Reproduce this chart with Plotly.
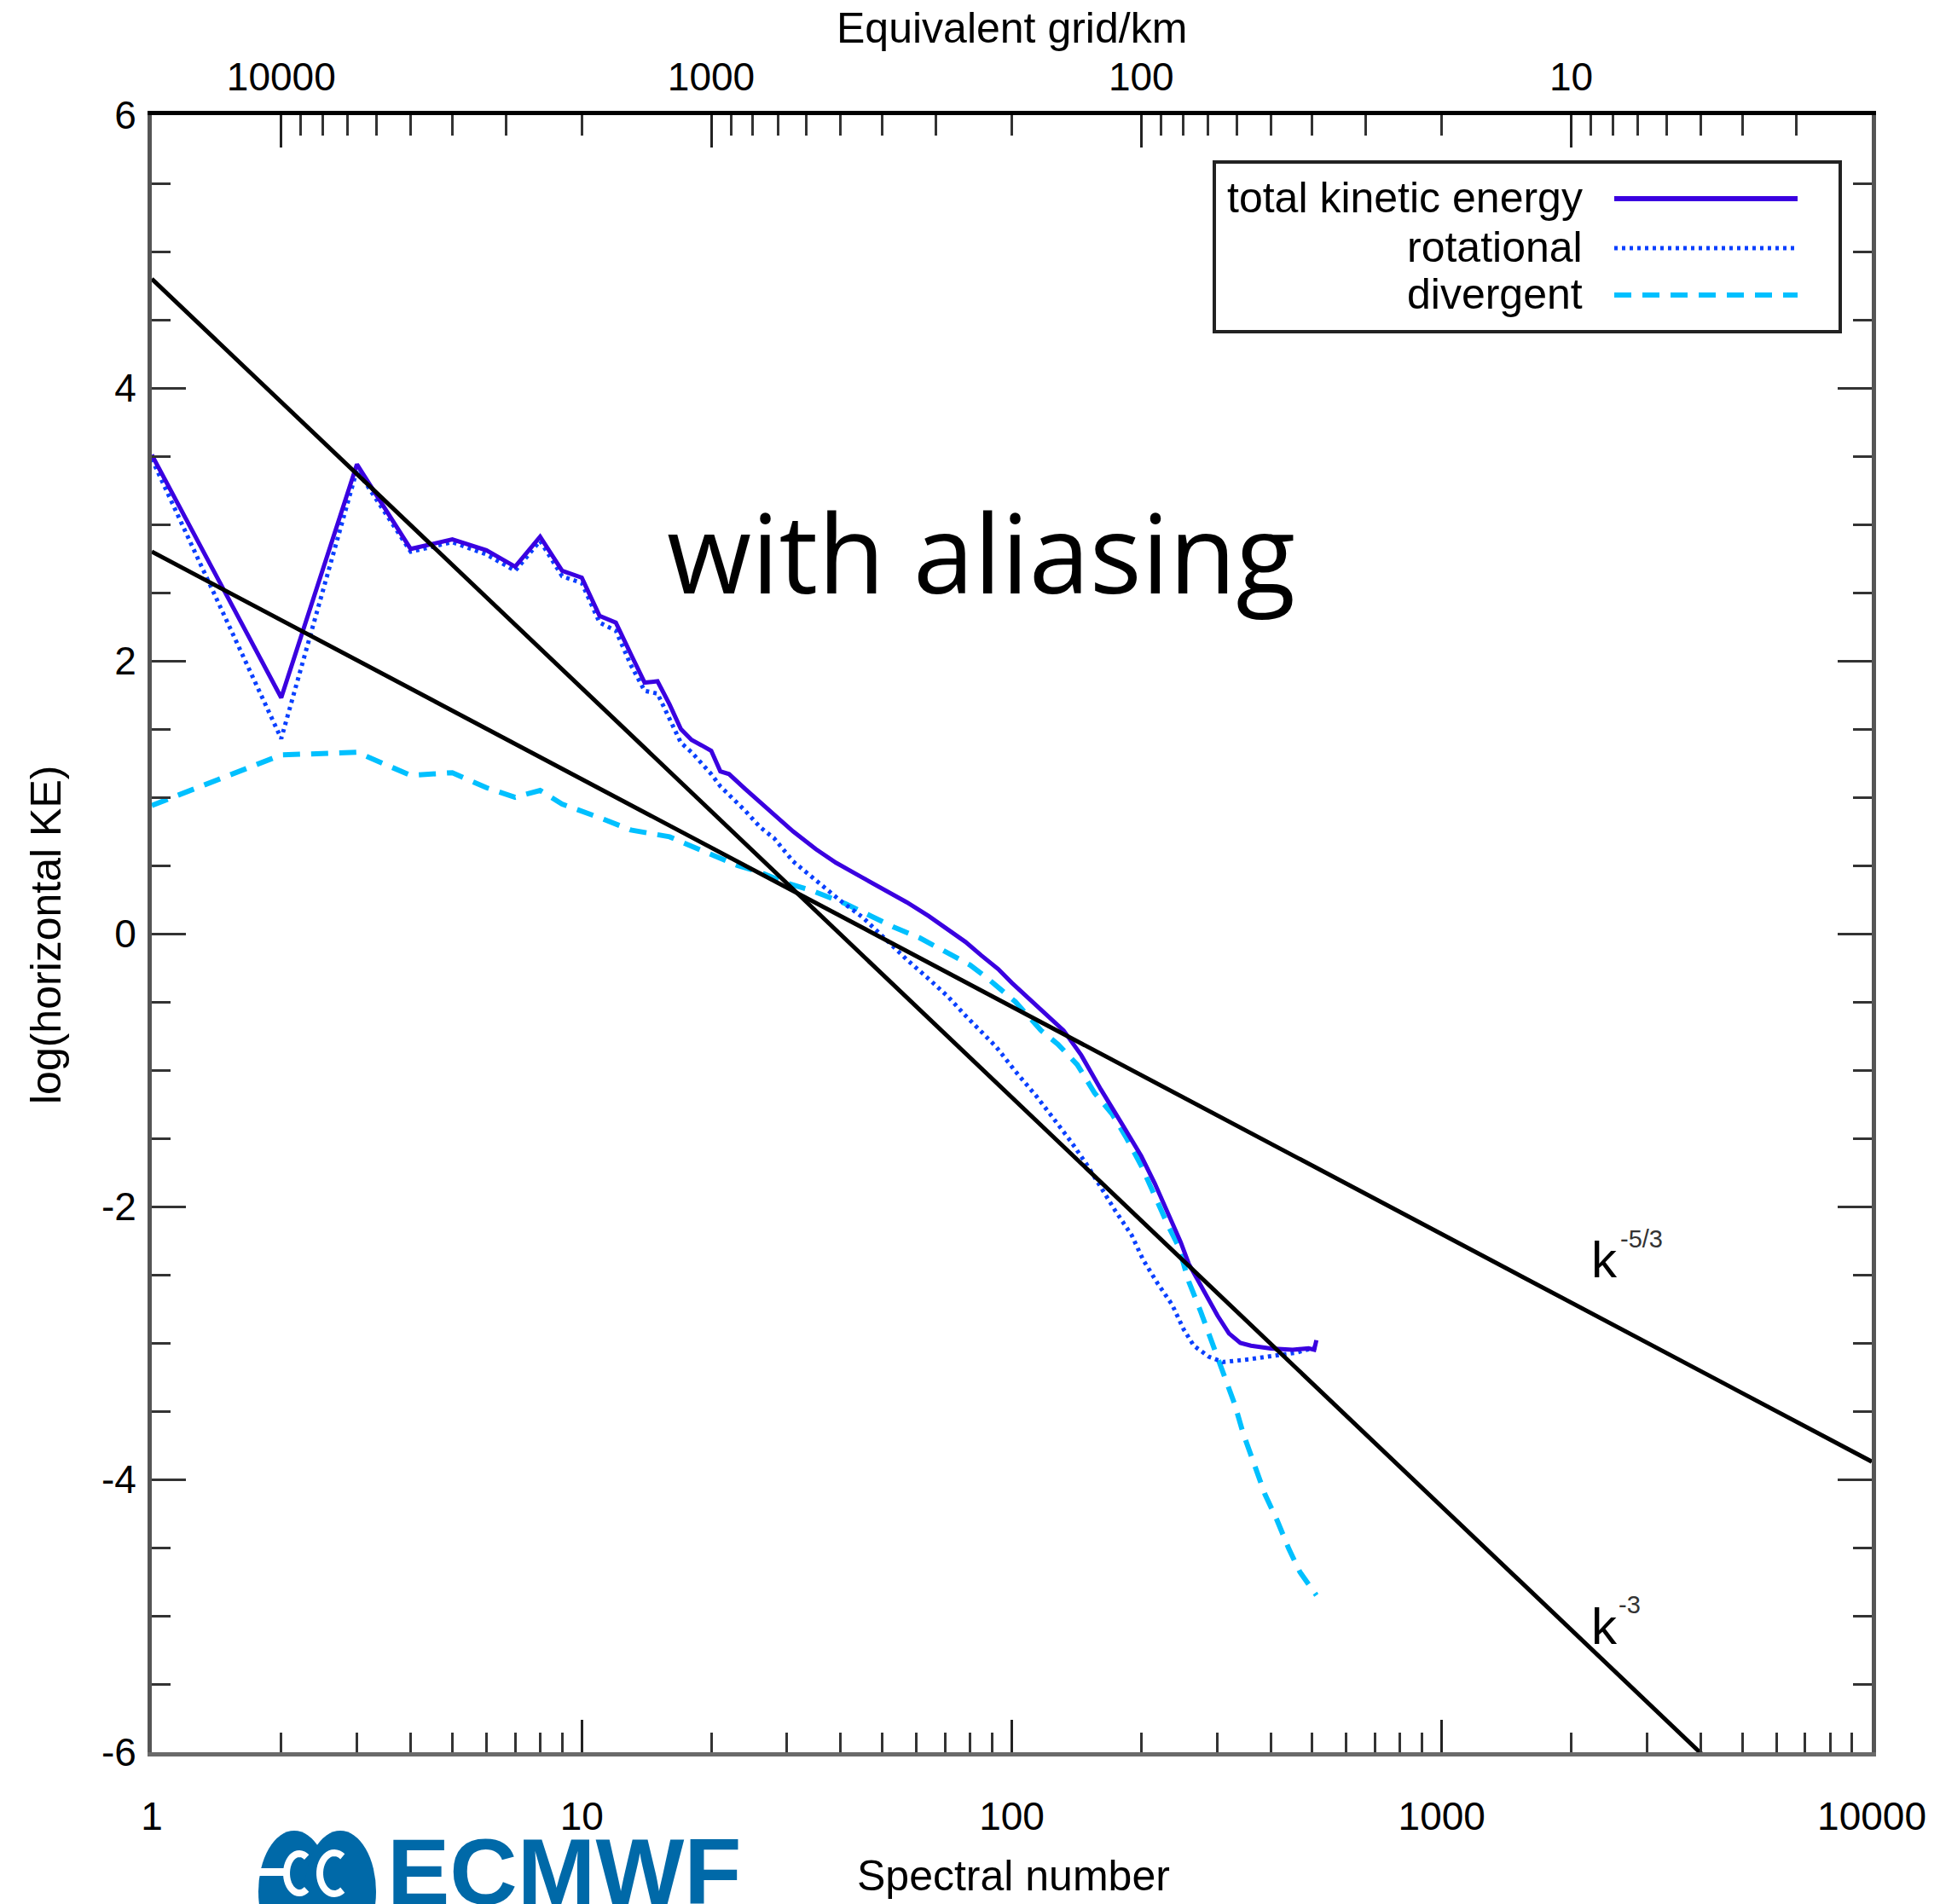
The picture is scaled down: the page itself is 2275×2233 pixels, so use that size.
import numpy as np
import plotly.graph_objects as go

# ---------------- data ----------------
k_total = [1, 2, 3, 4, 5, 6, 7, 8, 9, 10, 11, 12, 13, 14, 15, 16, 17, 18, 19, 20,
           21, 22, 24, 26, 28, 31, 35, 39, 45, 50, 57, 64, 71, 78, 85, 93, 100,
           114, 132, 145, 161, 180, 200, 215, 232, 247, 258, 279, 301, 320, 340,
           360, 400, 450, 490, 505, 511]
ke_total = [3.51, 1.73, 3.44, 2.82, 2.89, 2.81, 2.69, 2.91, 2.66, 2.61, 2.33, 2.28,
            2.05, 1.84, 1.85, 1.68, 1.50, 1.42, 1.38, 1.34, 1.19, 1.17, 1.06, 0.96,
            0.87, 0.75, 0.62, 0.52, 0.41, 0.33, 0.23, 0.13, 0.03, -0.06, -0.16,
            -0.26, -0.36, -0.53, -0.71, -0.89, -1.14, -1.39, -1.63, -1.83, -2.06,
            -2.26, -2.42, -2.61, -2.80, -2.93, -3.00, -3.02, -3.04, -3.05, -3.04,
            -3.05, -2.98]

k_rot = [1, 2, 3, 4, 5, 6, 7, 8, 9, 10, 11, 12, 13, 14, 15, 16, 17, 18, 19, 20,
         21, 22, 24, 26, 28, 31, 36, 40, 45, 50, 57, 64, 71, 78, 85, 92, 102, 114,
         124, 137, 150, 161, 174, 190, 202, 218, 236, 251, 265, 287, 310, 356, 414,
         460, 511]
ke_rot = [3.48, 1.43, 3.40, 2.80, 2.87, 2.78, 2.66, 2.88, 2.62, 2.57, 2.28, 2.22,
          1.97, 1.78, 1.76, 1.58, 1.40, 1.33, 1.25, 1.17, 1.08, 1.02, 0.90, 0.78,
          0.70, 0.53, 0.36, 0.24, 0.12, -0.02, -0.19, -0.33, -0.46, -0.60, -0.72,
          -0.83, -1.01, -1.19, -1.34, -1.52, -1.70, -1.86, -2.03, -2.21, -2.39,
          -2.56, -2.72, -2.90, -3.02, -3.10, -3.14, -3.12, -3.09, -3.07, -3.03]

k_div = [1, 2, 3, 4, 5, 6, 7, 8, 9, 10, 11, 13, 16, 19, 23, 26, 30, 34, 41, 47,
         53, 61, 70, 80, 88, 102, 117, 128, 142, 156, 171, 185, 200, 215, 231,
         244, 258, 275, 292, 310, 330, 345, 365, 388, 414, 441, 468, 500, 511]
ke_div = [0.94, 1.31, 1.33, 1.16, 1.18, 1.07, 1.00, 1.05, 0.95, 0.90, 0.85, 0.76,
          0.71, 0.61, 0.50, 0.45, 0.37, 0.32, 0.22, 0.13, 0.05, -0.03, -0.13,
          -0.23, -0.33, -0.50, -0.71, -0.81, -0.96, -1.17, -1.32, -1.50, -1.70,
          -1.93, -2.14, -2.29, -2.55, -2.77, -3.00, -3.21, -3.45, -3.66, -3.89,
          -4.11, -4.30, -4.51, -4.68, -4.82, -4.85]

ref_k = [1, 10000]
line_k53 = [2.80, -3.87]
line_k3 = [4.80, -7.20]

spectral_major = [1, 10, 100, 1000, 10000]
spectral_labels = ["1", "10", "100", "1000", "10000"]
spectral_minor = [m * 10 ** d for d in range(4) for m in range(2, 10)]

grid_km_major = [10000, 1000, 100, 10]
grid_km_labels = ["10000", "1000", "100", "10"]
grid_km_minor = [m * 10 ** d for d in range(0, 4) for m in range(2, 10)]

y_major = [-6, -4, -2, 0, 2, 4, 6]
y_labels = ["-6", "-4", "-2", "0", "2", "4", "6"]
y_minor = [v / 2 for v in range(-12, 13) if v % 4 != 0]

legend_names = ["total kinetic energy", "rotational", "divergent"]

# ---------------- layout geometry ----------------
W, H = 2275, 2233
ML, MR, MT, MB = 178, 80, 135, 178
PW = W - ML - MR
PH = H - MT - MB


def px(x):
    return (x - ML) / PW


def py(y):
    return (H - MB - y) / PH


C_TOT = "#3a00e0"
C_ROT = "#0a40ff"
C_DIV = "#00c0ff"
AX_FONT = "Liberation Sans, Arial, sans-serif"

fig = go.Figure()

fig.add_trace(go.Scatter(x=k_div, y=ke_div, mode="lines", name=legend_names[2],
                         line=dict(color=C_DIV, width=6, dash="20px,13px"),
                         showlegend=False))
fig.add_trace(go.Scatter(x=k_rot, y=ke_rot, mode="lines", name=legend_names[1],
                         line=dict(color=C_ROT, width=5, dash="4px,5px"),
                         showlegend=False))
fig.add_trace(go.Scatter(x=k_total, y=ke_total, mode="lines", name=legend_names[0],
                         line=dict(color=C_TOT, width=5), showlegend=False))
fig.add_trace(go.Scatter(x=ref_k, y=line_k53, mode="lines", name="k^-5/3",
                         line=dict(color="black", width=5), showlegend=False))
fig.add_trace(go.Scatter(x=ref_k, y=line_k3, mode="lines", name="k^-3",
                         line=dict(color="black", width=5), showlegend=False))
# carrier trace for the top (equivalent grid) axis
fig.add_trace(go.Scatter(x=grid_km_major, y=[None] * len(grid_km_major),
                         xaxis="x2", mode="lines", showlegend=False,
                         hoverinfo="skip"))

tickfont = dict(family=AX_FONT, size=46, color="black")

fig.update_layout(
    width=W, height=H,
    margin=dict(l=ML, r=MR, t=MT, b=MB),
    paper_bgcolor="white", plot_bgcolor="white",
    showlegend=False,
    xaxis=dict(type="log", range=[0, 4], tickmode="array",
               tickvals=spectral_major, ticktext=spectral_labels,
               ticks="inside", ticklen=38, tickwidth=3, tickcolor="#222",
               minor=dict(tickmode="array", tickvals=spectral_minor,
                          ticks="inside", ticklen=23, tickwidth=3,
                          tickcolor="#333"),
               showline=True, linecolor="#6a6a6a", linewidth=5,
               showgrid=False, zeroline=False, tickfont=tickfont,
               ticklabelstandoff=31),
    xaxis2=dict(type="log", overlaying="x", side="top", anchor="y",
                range=[np.log10(20000), np.log10(2)], tickmode="array",
                tickvals=grid_km_major, ticktext=grid_km_labels,
                ticks="inside", ticklen=38, tickwidth=3, tickcolor="#222",
                minor=dict(tickmode="array", tickvals=grid_km_minor,
                           ticks="inside", ticklen=24, tickwidth=3,
                           tickcolor="#333"),
                showline=True, linecolor="black", linewidth=5,
                showgrid=False, zeroline=False, tickfont=tickfont,
                ticklabelstandoff=6),
    yaxis=dict(range=[-6, 6], tickmode="array", tickvals=y_major,
               ticktext=y_labels, ticks="inside", ticklen=40, tickwidth=3,
               tickcolor="#333",
               minor=dict(tickmode="array", tickvals=y_minor, ticks="inside",
                          ticklen=22, tickwidth=3, tickcolor="#333"),
               mirror="ticks", showline=True, linecolor="#555", linewidth=5,
               showgrid=False, zeroline=False, tickfont=tickfont,
               ticklabelstandoff=4),
)

ann = []
title_font = dict(family=AX_FONT, size=50, color="black")
ann.append(dict(text="Equivalent grid/km", x=px(1186), y=py(33),
                xref="paper", yref="paper", xanchor="center", yanchor="middle",
                showarrow=False, font=title_font))
ann.append(dict(text="Spectral number", x=px(1188), y=py(2200),
                xref="paper", yref="paper", xanchor="center", yanchor="middle",
                showarrow=False, font=title_font))
ann.append(dict(text="log(horizontal KE)", x=px(54), y=py(1097),
                xref="paper", yref="paper", xanchor="center", yanchor="middle",
                textangle=-90, showarrow=False, font=title_font))
ann.append(dict(text="with aliasing", x=px(780), y=py(646),
                xref="paper", yref="paper", xanchor="left", yanchor="middle",
                showarrow=False,
                font=dict(family="Open Sans, sans-serif", size=128,
                          color="black")))
# power-law labels
kfont = dict(family=AX_FONT, size=60, color="black")
supfont = dict(family=AX_FONT, size=29, color="#333")
ann.append(dict(text="k", x=px(1864), y=py(1477), xref="paper", yref="paper",
                xanchor="left", yanchor="middle", showarrow=False, font=kfont))
ann.append(dict(text="-5/3", x=px(1898), y=py(1453), xref="paper", yref="paper",
                xanchor="left", yanchor="middle", showarrow=False, font=supfont))
ann.append(dict(text="k", x=px(1864), y=py(1907), xref="paper", yref="paper",
                xanchor="left", yanchor="middle", showarrow=False, font=kfont))
ann.append(dict(text="-3", x=px(1896), y=py(1882), xref="paper", yref="paper",
                xanchor="left", yanchor="middle", showarrow=False, font=supfont))

# custom legend (text to the left of the line sample)
leg_font = dict(family=AX_FONT, size=50, color="black")
leg_y = [233, 291, 346]
for name, yy in zip(legend_names, leg_y):
    ann.append(dict(text=name, x=px(1858), y=py(yy - 1), xref="paper",
                    yref="paper", xanchor="right", yanchor="middle",
                    showarrow=False, font=leg_font))

# ECMWF logo text
ann.append(dict(text="<b>ECMWF</b>", x=px(452), y=py(2194), xref="paper",
                yref="paper", xanchor="left", yanchor="middle",
                showarrow=False,
                font=dict(family="Liberation Sans, Arial, sans-serif",
                          size=110, color="#0069a8")))

shapes = []
shapes.append(dict(type="rect", xref="paper", yref="paper",
                   x0=px(1424), x1=px(2158), y0=py(190), y1=py(389),
                   line=dict(color="#222", width=4), fillcolor="white",
                   layer="above"))
leg_styles = [dict(color=C_TOT, width=6),
              dict(color=C_ROT, width=5, dash="4px,5px"),
              dict(color=C_DIV, width=6, dash="20px,13px")]
for st, yy in zip(leg_styles, leg_y):
    shapes.append(dict(type="line", xref="paper", yref="paper",
                       x0=px(1893), x1=px(2108), y0=py(yy), y1=py(yy),
                       line=st, layer="above"))

# ECMWF symbol (decoration)
LOGO = "#0069a8"
for cx in (345, 399):
    shapes.append(dict(type="circle", xref="paper", yref="paper",
                       x0=px(cx - 42), x1=px(cx + 42),
                       y0=py(2147), y1=py(2290),
                       fillcolor=LOGO, line=dict(width=0), layer="above"))
for cx, cy, rx, ry in ((351, 2197, 15, 23), (392, 2197, 17, 24)):
    ang = np.linspace(np.radians(55), np.radians(305), 30)
    xs = cx + rx * np.cos(ang)
    ys = cy - ry * np.sin(ang)
    path = "M " + " L ".join(f"{px(a):.5f},{py(b):.5f}" for a, b in zip(xs, ys))
    shapes.append(dict(type="path", xref="paper", yref="paper", path=path,
                       line=dict(color="white", width=8), layer="above"))
shapes.append(dict(type="rect", xref="paper", yref="paper",
                   x0=px(300), x1=px(337), y0=py(2191), y1=py(2200),
                   fillcolor="white", line=dict(width=0), layer="above"))

fig.update_layout(annotations=ann, shapes=shapes)

fig.write_html("out.html")
